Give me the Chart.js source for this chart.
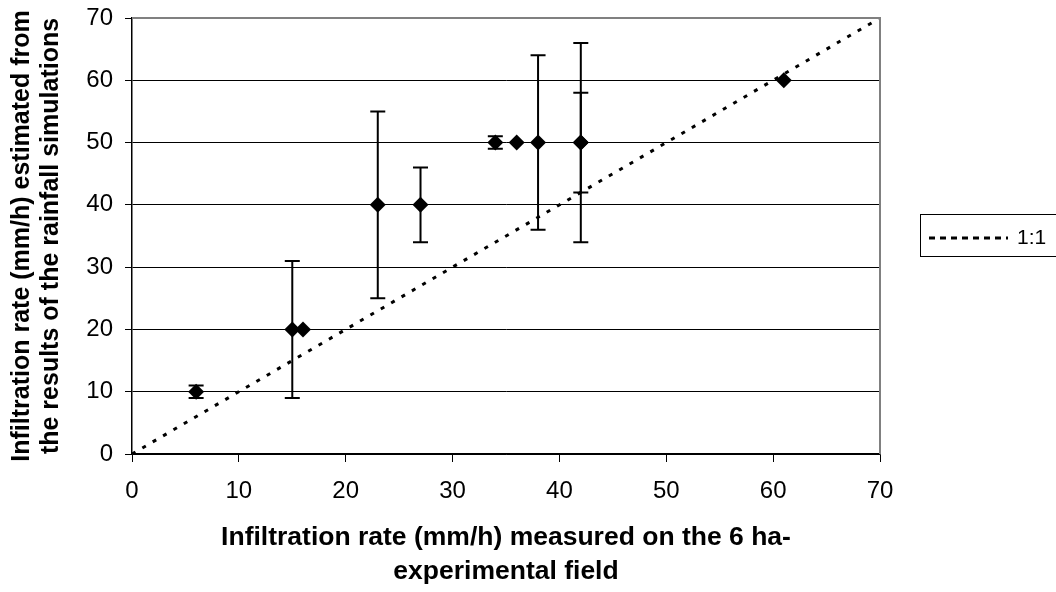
<!DOCTYPE html>
<html>
<head>
<meta charset="utf-8">
<script src="https://cdn.jsdelivr.net/npm/chart.js@4.4.1/dist/chart.umd.min.js"></script>
<style>
  html, body { margin: 0; padding: 0; background: #ffffff; }
  #wrap { width: 1056px; height: 592px; position: relative; }
</style>
</head>
<body>
<div id="wrap"><canvas id="c" width="1056" height="592"></canvas></div>
<script>
// ---- Data ----
const measured  = [6, 15, 16, 23, 27, 34, 36, 38, 42, 42, 61];   // x: measured infiltration rate (mm/h)
const estimated = [10, 20, 20, 40, 40, 50, 50, 50, 50, 50, 60];  // y: estimated infiltration rate (mm/h)
const errPlus   = [1, 11, 0, 15, 6, 1, 0, 14, 8, 16, 0];
const errMinus  = [1, 11, 0, 15, 6, 1, 0, 14, 8, 16, 0];
const oneToOneX = [0, 70];
const oneToOneY = [0, 70];
const xTicks = [0, 10, 20, 30, 40, 50, 60, 70];
const yTicks = [0, 10, 20, 30, 40, 50, 60, 70];
const xTitle = ['Infiltration rate (mm/h) measured on the 6 ha-', 'experimental field'];
const yTitle = ['Infiltration rate (mm/h) estimated from', 'the results of the rainfall simulations'];
const legendLabel = '1:1';

const FONT = '"Liberation Sans", Arial, Helvetica, sans-serif';

const pointData = measured.map((x, i) => ({ x: x, y: estimated[i] }));
const lineData = oneToOneX.map((x, i) => ({ x: x, y: oneToOneY[i] }));

// error bars drawn through the chart's scales
const errorBars = {
  id: 'errorBars',
  beforeDatasetsDraw(chart) {
    const ctx = chart.ctx;
    const xs = chart.scales.x, ys = chart.scales.y;
    ctx.save();
    ctx.strokeStyle = '#000';
    ctx.lineWidth = 2;
    const cap = 7.5;
    measured.forEach((xv, i) => {
      if (!errPlus[i] && !errMinus[i]) return;
      const px = xs.getPixelForValue(xv);
      const top = ys.getPixelForValue(estimated[i] + errPlus[i]);
      const bot = ys.getPixelForValue(estimated[i] - errMinus[i]);
      ctx.beginPath();
      ctx.moveTo(px, top); ctx.lineTo(px, bot);
      ctx.moveTo(px - cap, top); ctx.lineTo(px + cap, top);
      ctx.moveTo(px - cap, bot); ctx.lineTo(px + cap, bot);
      ctx.stroke();
    });
    ctx.restore();
  }
};

// plot frame (grey top/right) and custom legend box
const frameAndLegend = {
  id: 'frameAndLegend',
  afterDraw(chart) {
    const ctx = chart.ctx;
    const a = chart.chartArea;
    ctx.save();
    ctx.strokeStyle = '#808080';
    ctx.lineWidth = 2;
    ctx.beginPath();
    ctx.moveTo(a.left, a.top); ctx.lineTo(a.right, a.top); ctx.lineTo(a.right, a.bottom);
    ctx.stroke();
    // legend
    const lx = a.right + 40, ly = a.top + 196;
    ctx.strokeStyle = '#000';
    ctx.lineWidth = 1;
    ctx.strokeRect(lx + 0.5, ly + 0.5, 160, 42);
    ctx.lineWidth = 3;
    ctx.setLineDash([6, 5]);
    ctx.beginPath();
    ctx.moveTo(lx + 9, ly + 24); ctx.lineTo(lx + 88, ly + 24);
    ctx.stroke();
    ctx.setLineDash([]);
    ctx.fillStyle = '#000';
    ctx.font = '21px ' + FONT;
    ctx.textBaseline = 'middle';
    ctx.textAlign = 'left';
    ctx.fillText(legendLabel, lx + 97, ly + 24);
    ctx.restore();
  }
};

new Chart(document.getElementById('c'), {
  type: 'scatter',
  data: {
    datasets: [
      {
        label: legendLabel,
        data: lineData,
        showLine: true,
        borderColor: '#000',
        borderWidth: 3,
        borderDash: [4, 8],
        pointRadius: 0,
        fill: false,
        order: 2
      },
      {
        label: 'data',
        data: pointData,
        pointStyle: 'rectRot',
        pointRadius: 8,
        pointHoverRadius: 8,
        backgroundColor: '#000',
        borderColor: '#000',
        borderWidth: 0,
        showLine: false,
        order: 1
      }
    ]
  },
  options: {
    responsive: false,
    animation: false,
    events: [],
    layout: { padding: { top: 18, right: 176, left: 0, bottom: 0 } },
    plugins: { legend: { display: false }, tooltip: { enabled: false } },
    scales: {
      x: {
        type: 'linear',
        min: 0, max: 70,
        afterBuildTicks(s) { s.ticks = xTicks.map(v => ({ value: v })); },
        afterFit(s) { s.height = 138; s.paddingLeft = 0; s.paddingRight = 0; },
        grid: { drawOnChartArea: false, drawTicks: true, tickLength: 8, color: '#000', tickWidth: 1 },
        border: { display: true, color: '#000', width: 1.5 },
        ticks: { color: '#000', font: { family: FONT, size: 24 }, padding: 15, maxRotation: 0 },
        title: {
          display: true, text: xTitle, color: '#000',
          font: { family: FONT, size: 26.5, weight: 'bold', lineHeight: 1.3 },
          padding: { top: 0, bottom: 3 }
        }
      },
      y: {
        type: 'linear',
        min: 0, max: 70,
        afterBuildTicks(s) { s.ticks = yTicks.map(v => ({ value: v })); },
        afterFit(s) { s.width = 132; s.paddingTop = 0; s.paddingBottom = 0; },
        grid: {
          drawOnChartArea: true, drawTicks: true, tickLength: 7,
          color: ctx => (ctx.tick && ctx.tick.value === 70) ? '#808080' : '#000',
          tickColor: '#000', lineWidth: 1
        },
        border: { display: true, color: '#000', width: 1.5 },
        ticks: { color: '#000', font: { family: FONT, size: 24 }, padding: 12 },
        title: {
          display: true, text: yTitle, color: '#000',
          font: { family: FONT, size: 25, weight: 'bold', lineHeight: 1.16 },
          padding: { top: 8, bottom: 0 }
        }
      }
    }
  },
  plugins: [errorBars, frameAndLegend]
});
</script>
</body>
</html>
